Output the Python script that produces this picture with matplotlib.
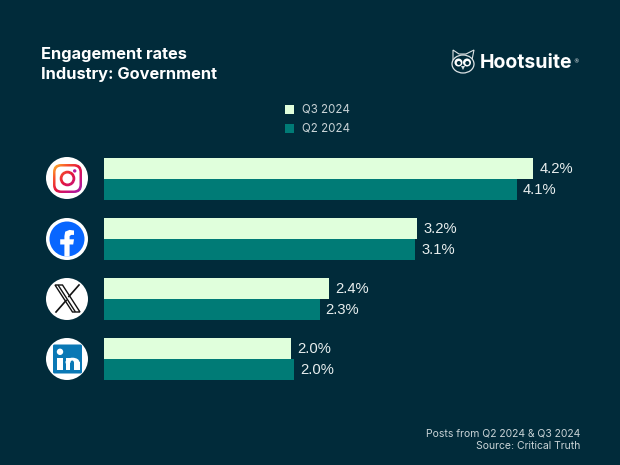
import numpy as np
import matplotlib
matplotlib.use("Agg")
import matplotlib.pyplot as plt
from matplotlib.patches import Circle, Polygon, FancyBboxPatch, Ellipse, Rectangle, Wedge
from matplotlib.colors import LinearSegmentedColormap

platforms = ["Instagram", "Facebook", "X", "LinkedIn"]
q3_values = [4.20, 3.145, 2.345, 2.00]
q2_values = [4.05, 3.13, 2.26, 2.03]
q3_labels = ["4.2%", "3.2%", "2.4%", "2.0%"]
q2_labels = ["4.1%", "3.1%", "2.3%", "2.0%"]
series_names = ["Q3 2024", "Q2 2024"]

BG = "#012B3A"; LIGHT = "#E0FFDC"; TEAL = "#007B76"; GREY = "#C9D3D6"
W, H = 620, 465
fig = plt.figure(figsize=(W/100, H/100), dpi=100, facecolor=BG)

ov = fig.add_axes([0, 0, 1, 1]); ov.set_xlim(0, W); ov.set_ylim(H, 0); ov.axis("off")

ax = fig.add_axes([104/W, 1-390/H, 456/W, 242/H]); ax.set_facecolor("none")
y = np.arange(len(platforms), dtype=float)
h = 21/60
ax.barh(y-h/2, q3_values, h, color=LIGHT, label=series_names[0])
ax.barh(y+h/2, q2_values, h, color=TEAL, label=series_names[1])
ax.set_xlim(0.3, 0.3+456/110)
ax.set_ylim(3+ (390-359)/60, -(179-148)/60)
ax.axis("off")
for i in range(4):
    ax.annotate(q3_labels[i], (q3_values[i], y[i]-h/2), xytext=(6.5, -0.4), textcoords="offset pixels",
                va="center", color="#E8EEEE", fontsize=10.6, family="Liberation Sans")
    ax.annotate(q2_labels[i], (q2_values[i], y[i]+h/2), xytext=(6, -0.4), textcoords="offset pixels",
                va="center", color="#E8EEEE", fontsize=10.6, family="Liberation Sans")

ov.text(41, 54, "Engagement rates", color="white", fontsize=11.8, fontweight="bold", family="Inter", va="center")
ov.text(41, 74, "Industry: Government", color="white", fontsize=11.8, fontweight="bold", family="Inter", va="center")

for yy, c, n in zip([109, 128], [LIGHT, TEAL], series_names):
    ov.add_patch(Rectangle((285, yy-4.5), 9, 9, color=c, lw=0))
    ov.text(302, yy+.5, n, color=GREY, fontsize=8.3, family="Inter", va="center")

ov.text(580, 433.5, "Posts from Q2 2024 & Q3 2024", color=GREY, fontsize=7.5, family="Inter", ha="right", va="center")
ov.text(580, 445.5, "Source: Critical Truth", color=GREY, fontsize=7.5, family="Inter", ha="right", va="center")

# hootsuite logo
ov.text(480, 62.5, "Hootsuite", color="white", fontsize=14, fontweight="bold", family="Inter", va="center")
ov.text(576, 62, "®", color="white", fontsize=4, va="center", ha="center")
ov.add_patch(Polygon([[453,50],[459,54],[466,54],[474,50],[472,60],[453,60]], closed=True, fc=BG, ec="#DDE3E5", lw=.8))
ov.add_patch(Ellipse((463, 64), 22, 18, fc=BG, ec="#DDE3E5", lw=.9))
for ex in (458.5, 467):
    ov.add_patch(Circle((ex, 62.5), 4, fc="white", ec="none"))
    ov.add_patch(Circle((ex+.3, 63), 2.0, fc=BG, ec="none"))
ov.add_patch(Polygon([[461,66],[465,66],[463,70]], fc="#DDE3E5", ec="none"))

cx = 67
cys = [178, 239, 299, 359]
for cy in cys:
    ov.add_patch(Circle((cx, cy), 21, fc="white", ec="none"))

# instagram
cy = cys[0]
ix, iy = cx+.5, cy+.5
cmap = LinearSegmentedColormap.from_list("ig", ["#FEC92B", "#F9572B", "#E3163F", "#C6137F", "#9A1FB8"])
gy, gx = np.mgrid[0:1:80j, 0:1:80j]
grad = (gx + (1-gy)) / 2
ext = (ix-15, ix+15, iy+15, iy-15)
clipr = FancyBboxPatch((ix-14.5, iy-14.5), 29, 29, boxstyle="round,pad=0,rounding_size=8", fc="none", ec="none")
im1 = ov.imshow(grad, cmap=cmap, extent=ext, zorder=3, aspect="auto", origin="lower")
ov.add_patch(clipr); im1.set_clip_path(clipr)
ov.add_patch(FancyBboxPatch((ix-12, iy-12), 24, 24, boxstyle="round,pad=0,rounding_size=6", fc="white", ec="none", zorder=4))
im2 = ov.imshow(grad, cmap=cmap, extent=ext, zorder=5, aspect="auto", origin="lower")
c2 = Circle((ix, iy), 7.8, fc="none", ec="none"); ov.add_patch(c2); im2.set_clip_path(c2)
ov.add_patch(Circle((ix, iy), 5, fc="white", ec="none", zorder=6))
ov.add_patch(Circle((ix+7.2, iy-7.6), 1.7, fc="#B9189E", ec="none", zorder=6))
ov.set_xlim(0, W); ov.set_ylim(H, 0)

# facebook
cy = cys[1]
ov.add_patch(Circle((cx, cy), 17.5, fc="#0866FF", ec="none", zorder=3))
f = [[-2.6,17.3],[-2.6,5.2],[-6.8,5.2],[-6.8,0],[-2.6,0],[-2.6,-3.2],[-1.8,-7.6],[2.5,-9.4],[7,-8.8],[7,-4.4],[4.2,-4.4],[2.6,-3.2],[2.6,0],[7,0],[6.2,5.2],[2.6,5.2],[2.6,17.3]]
ov.add_patch(Polygon([[cx+a, cy+b+.3] for a, b in f], fc="white", ec="none", zorder=4))

# X
cy = cys[2]; xc = cx+.5; yc = cy-.5
ov.add_patch(Polygon([[xc-12.5,yc-13.5],[xc-5,yc-13.5],[xc+12.5,yc+13.5],[xc+5,yc+13.5]], fc="white", ec="#111111", lw=1.0, zorder=3))
ov.plot([xc-9, xc+7.5], [yc-12.8, yc+12.8], color="#111111", lw=1.0, zorder=4)
ov.plot([xc+11.5, xc+1.4], [yc-13.5, yc-2], color="#111111", lw=1.2, zorder=4)
ov.plot([xc-1.4, xc-11.5], [yc+2, yc+13.5], color="#111111", lw=1.2, zorder=4)

# linkedin
cy = cys[3]
ov.add_patch(FancyBboxPatch((cx-14, cy-14.5), 29, 29, boxstyle="round,pad=0,rounding_size=1.5", fc="#0A78B5", ec="none", zorder=3))
ov.add_patch(Rectangle((cx-10, cy-1), 6, 12, fc="white", ec="none", zorder=4))
ov.add_patch(Circle((cx-7, cy-7.2), 3.2, fc="white", ec="none", zorder=4))
ov.add_patch(Rectangle((cx-1.5, cy-1), 5.5, 12, fc="white", ec="none", zorder=4))
ov.add_patch(Rectangle((cx+7, cy+3), 5.5, 8, fc="white", ec="none", zorder=4))
ov.add_patch(Ellipse((cx+5.5, cy+3.2), 14, 9, fc="white", ec="none", zorder=4))
ov.add_patch(Ellipse((cx+5.2, cy+4), 3.6, 5, fc="#0A78B5", ec="none", zorder=5))
ov.add_patch(Rectangle((cx+3.4, cy+4), 3.6, 8, fc="#0A78B5", ec="none", zorder=5))

fig.savefig("out.png", dpi=100, facecolor=BG)
